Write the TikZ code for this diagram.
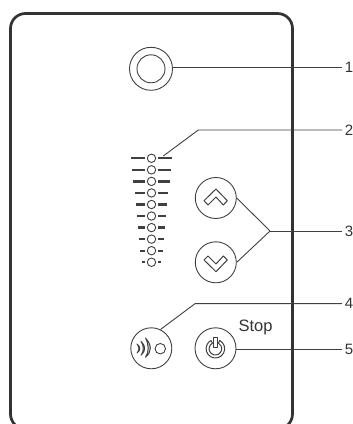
\documentclass[tikz,border=0pt]{standalone}
\usepackage{fontspec}
\setmainfont{Liberation Sans}
\usetikzlibrary{calc}
\definecolor{panel}{HTML}{333333}
\definecolor{lead}{HTML}{404040}
\tikzset{
  btn/.style={draw=lead, circle, line width=0.9pt, inner sep=0pt, minimum size=#1},
  lamp/.style={draw=lead, circle, line width=0.9pt, inner sep=0pt, minimum size=8.4pt},
  leader/.style={draw=lead, line width=0.9pt},
  bar/.style={draw=lead, line width=2.3pt},
  icon/.style={draw=lead, line width=1pt, line join=round},
  wave/.style={draw=lead, line width=0.9pt, line join=round, fill=lead!35},
  num/.style={inner sep=0pt, inner xsep=2.6pt, anchor=west, font=\fontsize{15}{15}\selectfont, text=black!80}
}
\begin{document}
\begin{tikzpicture}[x=1pt, y=1pt]
  \useasboundingbox (0,0) rectangle (353,424);
  % panel
  \draw[panel, line width=2.7pt, rounded corners=15pt] (10.5,-5) rectangle (292.5,410.5);
  % labels
  \node[num] (n1) at (342,357) {1};
  \node[num] (n2) at (342,294) {2};
  \node[num] (n3) at (342,193) {3};
  \node[num] (n4) at (342,120.3) {4};
  \node[num] (n5) at (342,74.5) {5};
  \node[inner sep=0pt, font=\fontsize{16.5}{16.5}\selectfont, text=black!80] (stop) at (255.5,97) {Stop};
  % buttons
  \node[btn=43pt] (main) at (151,355.2) {};
  \node[btn=28pt] (maini) at (151,355.2) {};
  \node[btn=41pt] (up) at (215.8,226) {};
  \node[btn=41pt] (down) at (215.8,161.7) {};
  \node[btn=41pt] (sound) at (151.3,75.7) {};
  \node[btn=41pt] (power) at (215.5,75.7) {};
  % meter
  \foreach \i in {0,...,9} {
    \node[lamp] (m\i) at (151.5,265.7-11.55*\i) {};
    \draw[bar] ($(m\i)+(-6.5,0)$) -- ++({-14+1.18*\i},0);
    \draw[bar] ($(m\i)+(6.5,0)$) -- ++({14-1.18*\i},0);
  }
  % chevrons
  \draw[icon] (216,235) -- (227.3,223.3) -- (223.3,219) -- (216,227) -- (208,219) -- (204,223.3) -- cycle;
  \draw[icon] (216,152.3) -- (227.3,164) -- (223.3,168) -- (216,160) -- (208,168) -- (204,164) -- cycle;
  % sound icon
  \node[lamp, minimum size=10.5pt] (dot) at (160.3,75.3) {};
  \draw[wave] (137,80) .. controls (139.5,77) and (139.5,74) .. (137,71) .. controls (140.8,73.5) and (140.8,77.5) .. cycle;
  \draw[wave] (141,82.7) .. controls (144,78) and (144,73) .. (141,68.7) .. controls (146,73) and (146,78) .. cycle;
  \draw[wave] (145.5,86) .. controls (149,79) and (149,72) .. (145.5,66.7) .. controls (152,72) and (152,79) .. cycle;
  % power icon
  \coordinate (pw) at (215.4,75.3);
  \draw[icon] ([shift={(62:9.3)}]pw) arc (62:-242:9.3) -- ([shift={(118:6.3)}]pw) arc (118:422:6.3) -- cycle;
  \draw[icon, fill=white] (213.2,86.9) rectangle (217.6,76.5);
  % leaders
  \coordinate (s2) at (163.3,268);
  \coordinate (k2) at (198.3,294);
  \coordinate (k3) at (270,193);
  \coordinate (k4) at (195,120.3);
  \draw[leader] (main.east |- n1) -- (n1);
  \draw[leader] (s2) -- (k2) -- (n2);
  \draw[leader] (up.east) -- (k3);
  \draw[leader] (down.east) -- (k3);
  \draw[leader] (k3) -- (n3);
  \draw[leader] (sound.64) -- (k4) -- (n4);
  \draw[leader] (power.east |- n5) -- (n5);
\end{tikzpicture}
\end{document}
